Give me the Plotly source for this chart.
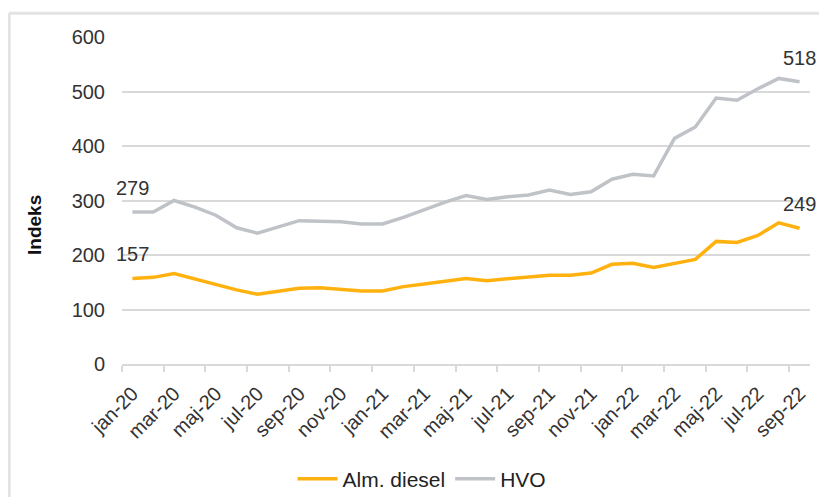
import plotly.graph_objects as go

months = ["jan-20", "feb-20", "mar-20", "apr-20", "maj-20", "jun-20", "jul-20", "aug-20",
          "sep-20", "okt-20", "nov-20", "dec-20", "jan-21", "feb-21", "mar-21", "apr-21",
          "maj-21", "jun-21", "jul-21", "aug-21", "sep-21", "okt-21", "nov-21", "dec-21",
          "jan-22", "feb-22", "mar-22", "apr-22", "maj-22", "jun-22", "jul-22", "aug-22",
          "sep-22"]

diesel = [157, 159, 166, 156, 146, 136, 128, 134, 139, 140, 137, 134, 134, 142, 147, 152,
          157, 153, 156, 160, 163, 163, 167, 183, 185, 177, 184, 192, 225, 223, 236, 259, 249]

hvo = [279, 279, 300, 288, 273, 250, 240, 251, 263, 262, 261, 257, 257, 269, 283, 297,
       309, 302, 307, 310, 319, 311, 316, 339, 348, 345, 414, 435, 488, 484, 505, 524, 518]

y_ticks = [0, 100, 200, 300, 400, 500, 600]

FONT = "Liberation Sans, Arial, sans-serif"
TXT = "#333333"
ORANGE = "#FFB20F"
GREY = "#BFC3C7"
GRID = "#D9D9D9"
FS = 20

x = list(range(len(months)))

fig = go.Figure()
fig.add_trace(go.Scatter(x=x, y=diesel, mode="lines", name="Alm. diesel",
                         line=dict(color=ORANGE, width=3.5)))
fig.add_trace(go.Scatter(x=x, y=hvo, mode="lines", name="HVO",
                         line=dict(color=GREY, width=3.5)))

annotations = []
for series in (hvo, diesel):
    for idx in (0, len(series) - 1):
        annotations.append(dict(x=x[idx], y=series[idx], xref="x", yref="y",
                                text=str(series[idx]), showarrow=False,
                                yshift=24, font=dict(size=FS, color=TXT, family=FONT)))

annotations.append(dict(x=-0.128, y=0.425, xref="paper", yref="paper", text="<b>Indeks</b>",
                        textangle=-90, showarrow=False, xanchor="center", yanchor="middle",
                        font=dict(size=19, color="#111111", family=FONT)))

fig.update_layout(
    width=819, height=489,
    margin=dict(l=114, r=17, t=29, b=133, autoexpand=False),
    paper_bgcolor="white", plot_bgcolor="white",
    font=dict(family=FONT, size=FS, color=TXT),
    showlegend=True,
    legend=dict(orientation="h", x=0.436, y=-0.352, xanchor="center", yanchor="middle",
                font=dict(size=21, color="#222222", family=FONT), itemwidth=40),
    annotations=annotations,
    shapes=[
        dict(type="line", xref="paper", yref="paper", x0=-0.164, x1=-0.164, y0=-0.45, y1=1.073,
             line=dict(color="#E3E3E3", width=3)),
        dict(type="line", xref="paper", yref="paper", x0=-0.164, x1=1.05, y0=1.073, y1=1.073,
             line=dict(color="#E3E3E3", width=3)),
    ],
)

fig.update_xaxes(
    range=[-0.5, len(months) - 0.5],
    automargin=False,
    tickmode="array",
    tickvals=x[::2],
    ticktext=months[::2],
    tickangle=-45,
    ticks="",
    showgrid=False,
    showline=True, linecolor=GRID, linewidth=2,
    tickfont=dict(size=FS, color=TXT, family=FONT),
    ticklabelstandoff=8,
    minor=dict(tickvals=[v - 0.5 for v in x[::2]], ticks="outside", ticklen=6,
               tickcolor=GRID, tickwidth=2, showgrid=False),
    zeroline=False,
)
fig.update_yaxes(
    range=[0, 600],
    automargin=False,
    tickmode="array",
    tickvals=y_ticks,
    showgrid=True, gridcolor=GRID, gridwidth=2,
    zeroline=False,
    ticks="",
    tickfont=dict(size=FS, color=TXT, family=FONT),
    ticklabelstandoff=16,
)

fig.write_html("out.html")
